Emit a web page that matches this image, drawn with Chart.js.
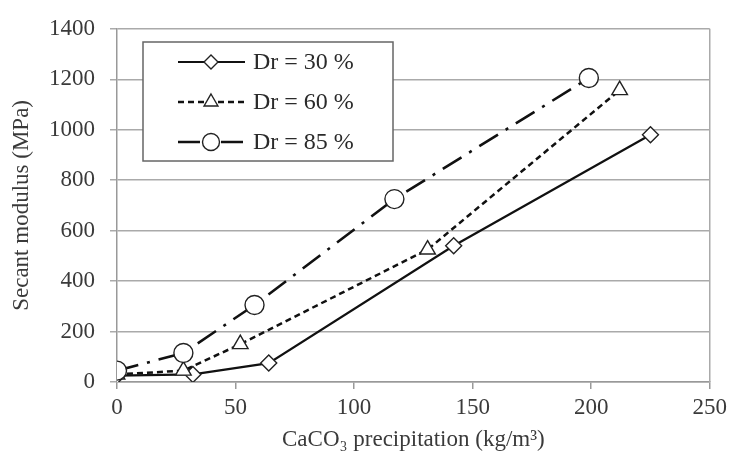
<!DOCTYPE html>
<html>
<head>
<meta charset="utf-8">
<script src="https://cdn.jsdelivr.net/npm/chart.js@4.4.1/dist/chart.umd.min.js"></script>
<style>
  html, body { margin: 0; padding: 0; background: #fff; }
  #wrap { width: 732px; height: 454px; }
</style>
</head>
<body>
<div id="wrap"><canvas id="chart" width="732" height="454"></canvas></div>
<script>
// data
const seriesLabels = ['Dr = 30 %', 'Dr = 60 %', 'Dr = 85 %'];
const caco3Dr30 = [0, 32, 64, 142, 225];
const modulusDr30 = [25, 30, 75, 540, 980];
const caco3Dr60 = [0, 28, 52, 131, 212];
const modulusDr60 = [30, 45, 150, 525, 1157];
const caco3Dr85 = [0, 28, 58, 117, 199];
const modulusDr85 = [45, 115, 305, 725, 1205];

const xTicks = [0, 50, 100, 150, 200, 250];
const yTicks = [0, 200, 400, 600, 800, 1000, 1200, 1400];

const toPoints = (xs, ys) => xs.map((x, i) => ({ x: x, y: ys[i] }));

Chart.defaults.font.family = '"Liberation Serif", "DejaVu Serif", serif';
Chart.defaults.color = '#3a3a3a';

// legend box drawn inside the plot like the original
const boxLegend = {
    id: 'boxLegend',
    afterDatasetsDraw(chart) {
        const ctx = chart.ctx;
        const box = { x: 143, y: 42, w: 250, h: 119 };
        ctx.save();
        ctx.fillStyle = '#fff';
        ctx.fillRect(box.x, box.y, box.w, box.h);
        ctx.strokeStyle = '#666';
        ctx.lineWidth = 1.5;
        ctx.strokeRect(box.x, box.y, box.w, box.h);

        // sorted by label so Dr = 30 % comes first
        const sets = chart.data.datasets.slice().sort((a, b) => a.label.localeCompare(b.label));
        sets.forEach((ds, i) => {
            const y = 62 + i * 40;
            ctx.strokeStyle = ds.borderColor;
            ctx.lineWidth = ds.borderWidth;
            ctx.setLineDash(ds.borderDash || []);
            ctx.beginPath();
            ctx.moveTo(178, y);
            ctx.lineTo(245, y);
            ctx.stroke();
            ctx.setLineDash([]);
            ctx.fillStyle = '#fff';
            ctx.strokeStyle = ds.pointBorderColor;
            ctx.lineWidth = ds.pointBorderWidth;
            Chart.helpers.drawPoint(ctx, {
                pointStyle: ds.pointStyle,
                radius: ds.pointRadius - 1,
                borderWidth: ds.pointBorderWidth,
                rotation: 0
            }, 211, y);
            ctx.fillStyle = '#2a2a2a';
            ctx.font = '24px "Liberation Serif", serif';
            ctx.textBaseline = 'middle';
            ctx.fillText(ds.label, 253, y + 1);
        });
        ctx.restore();
    }
};

new Chart(document.getElementById('chart'), {
    type: 'line',
    data: {
        datasets: [
            {
                label: seriesLabels[2],
                data: toPoints(caco3Dr85, modulusDr85),
                borderColor: '#111',
                borderWidth: 2.6,
                borderDash: [22, 9, 3, 9],
                pointStyle: 'circle',
                pointRadius: 9.5,
                pointBorderWidth: 1.4,
                pointBackgroundColor: '#fff',
                pointBorderColor: '#222',
                order: 1
            },
            {
                label: seriesLabels[1],
                data: toPoints(caco3Dr60, modulusDr60),
                borderColor: '#111',
                borderWidth: 2.5,
                borderDash: [6, 4],
                pointStyle: 'triangle',
                pointRadius: 9,
                pointBorderWidth: 1.4,
                pointBackgroundColor: '#fff',
                pointBorderColor: '#222',
                order: 2
            },
            {
                label: seriesLabels[0],
                data: toPoints(caco3Dr30, modulusDr30),
                borderColor: '#111',
                borderWidth: 2.2,
                pointStyle: 'rectRot',
                pointRadius: 8,
                pointBorderWidth: 1.4,
                pointBackgroundColor: '#fff',
                pointBorderColor: '#222',
                order: 3
            }
        ]
    },
    options: {
        responsive: false,
        animation: false,
        layout: { padding: { top: 25, right: 19, left: 0, bottom: 0 } },
        plugins: {
            legend: { display: false },
            tooltip: { enabled: false }
        },
        scales: {
            x: {
                type: 'linear',
                min: 0,
                max: 250,
                afterBuildTicks: (s) => { s.ticks = xTicks.map(v => ({ value: v })); },
                afterFit: (s) => { s.height = 72; },
                grid: {
                    drawOnChartArea: false,
                    tickLength: 7,
                    color: '#999',
                    lineWidth: 1.5
                },
                border: { color: '#999', width: 1.5 },
                ticks: { font: { size: 23 }, padding: 5, color: '#3a3a3a', callback: (v) => String(v) },
                title: {
                    display: true,
                    text: 'CaCO₃ precipitation (kg/m³)',
                    font: { size: 23 },
                    color: '#3a3a3a',
                    padding: { top: 0, bottom: 0 }
                }
            },
            y: {
                min: 0,
                max: 1400,
                afterBuildTicks: (s) => { s.ticks = yTicks.map(v => ({ value: v })); },
                afterFit: (s) => { s.width = 117; },
                grid: {
                    tickLength: 7,
                    color: '#aaa',
                    lineWidth: 1.5
                },
                border: { color: '#999', width: 1.5 },
                ticks: { font: { size: 23 }, padding: 15, color: '#3a3a3a', callback: (v) => String(v) },
                title: {
                    display: true,
                    text: 'Secant modulus (MPa)',
                    font: { size: 23 },
                    color: '#3a3a3a',
                    padding: { top: 8, bottom: 0 }
                }
            }
        }
    },
    plugins: [boxLegend, {
        id: 'rightBorder',
        beforeDatasetsDraw(chart) {
            const a = chart.chartArea;
            const ctx = chart.ctx;
            ctx.save();
            ctx.strokeStyle = '#aaa';
            ctx.lineWidth = 1.5;
            ctx.beginPath();
            ctx.moveTo(a.right, a.top);
            ctx.lineTo(a.right, a.bottom);
            ctx.stroke();
            ctx.restore();
        }
    }]
});
</script>
</body>
</html>
